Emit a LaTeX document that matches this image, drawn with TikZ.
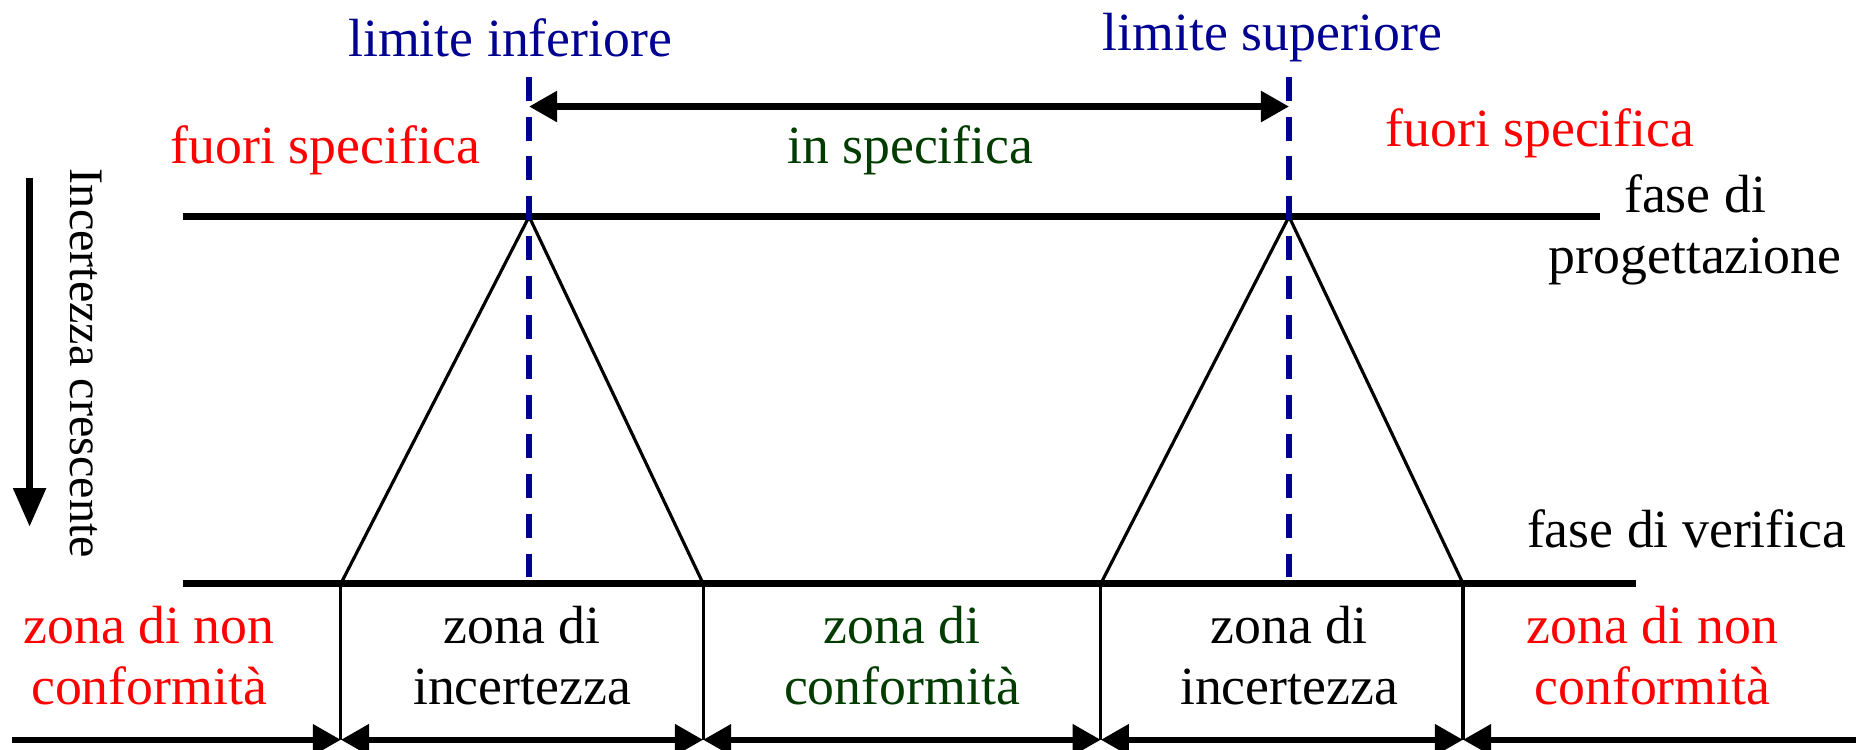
\documentclass[tikz,border=0pt]{standalone}
\usepackage{fontspec}
\setmainfont{Liberation Serif}
\usetikzlibrary{arrows.meta}
\definecolor{limblue}{RGB}{0,0,145}
\definecolor{okgreen}{RGB}{0,60,0}
\begin{document}
\begin{tikzpicture}[x=0.11837mm, y=-0.11837mm, font=\fontsize{15.3}{17.4}\selectfont,
  fase/.style={line width=1.8pt},
  side/.style={line width=0.9pt},
  lim/.style={limblue, line width=1.8pt, dash pattern=on 6.8pt off 4.5pt},
  dim/.style={line width=1.8pt, -{Triangle[length=8pt, width=8.5pt]}},
  dimboth/.style={line width=1.8pt, {Triangle[length=8pt, width=8.5pt]}-{Triangle[length=8pt, width=8.5pt]}},
  lbl/.style={align=center, inner sep=0pt}]
  \useasboundingbox (0,0) rectangle (1568,633);
  % design and verification phases
  \coordinate (pL) at (155,183); \coordinate (pR) at (1352,183);
  \coordinate (vL) at (155,493); \coordinate (vR) at (1382,493);
  \draw[fase] (pL) -- (pR);
  \draw[fase] (vL) -- (vR);
  % uncertainty triangles
  \coordinate (infTop) at (447,183); \coordinate (supTop) at (1089,183);
  \coordinate (a) at (288,493); \coordinate (b) at (594,493);
  \coordinate (c) at (930,493); \coordinate (d) at (1236,493);
  \draw[side] (a) -- (infTop) -- (b);
  \draw[side] (c) -- (supTop) -- (d);
  % zone borders and arrows
  \coordinate (a0) at (288,625); \coordinate (b0) at (594,625);
  \coordinate (c0) at (930,625); \coordinate (d0) at (1236,625);
  \coordinate (startL) at (10,625); \coordinate (endR) at (1568,625);
  \foreach \p in {a,b,c,d} {\draw[side] (\p) -- (\p0);}
  \draw[dim] (startL) -- (a0);
  \draw[dimboth] (a0) -- (b0);
  \draw[dimboth] (b0) -- (c0);
  \draw[dimboth] (c0) -- (d0);
  \draw[dim] (endR) -- (d0);
  % limits
  \coordinate (infHi) at (447,65); \coordinate (infLo) at (447,493);
  \coordinate (supHi) at (1089,65); \coordinate (supLo) at (1089,493);
  \draw[lim] (infHi) -- (infLo);
  \draw[lim] (supHi) -- (supLo);
  \coordinate (specL) at (447,90); \coordinate (specR) at (1089,90);
  \draw[dimboth] (specL) -- (specR);
  \node[lbl, limblue] (limInf) at (431,32) {limite inferiore};
  \node[lbl, limblue] (limSup) at (1075,32) {limite superiore};
  \node[lbl, okgreen] (inSpec) at (769,127) {in specifica};
  \node[lbl, red] (fuoriL) at (275,127) {fuori specifica};
  \node[lbl, red] (fuoriR) at (1301,113) {fuori specifica};
  \node[lbl] (progett) at (1432,194) {fase di\\progettazione};
  \node[lbl] (verif) at (1425,447) {fase di verifica};
  % zones
  \node[lbl, red] (nonConfL) at (126,554) {zona di non\\conformità};
  \node[lbl] (incertL) at (441,554) {zona di\\incertezza};
  \node[lbl, okgreen] (conf) at (762,554) {zona di\\conformità};
  \node[lbl] (incertR) at (1089,554) {zona di\\incertezza};
  \node[lbl, red] (nonConfR) at (1396,554) {zona di non\\conformità};
  % increasing uncertainty
  \coordinate (uncHi) at (25,150); \coordinate (uncLo) at (25,445);
  \draw[line width=1.9pt, -{Triangle[length=11pt, width=9pt]}] (uncHi) -- (uncLo);
  \node[lbl, rotate=-90, font=\fontsize{13.7}{16}\selectfont] (crescente) at (73,307) {Incertezza crescente};
\end{tikzpicture}
\end{document}
